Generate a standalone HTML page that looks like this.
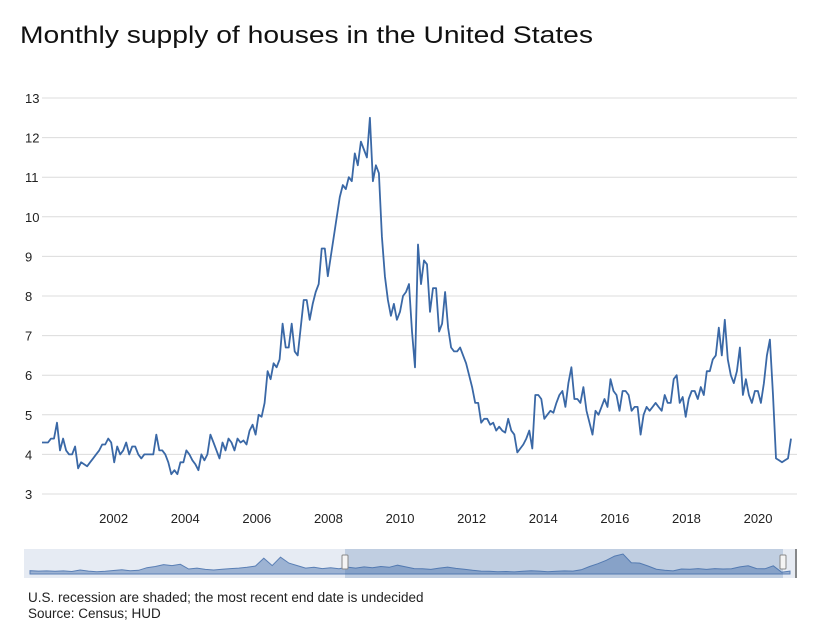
<!DOCTYPE html>
<html><head><meta charset="utf-8">
<style>
body{margin:0;background:#fff;width:820px;height:634px;overflow:hidden;font-family:"Liberation Sans",sans-serif;}
svg{display:block}
</style></head>
<body>
<svg id="chart" width="820" height="634">
<text x="20" y="43" font-size="24" fill="#111" textLength="573" lengthAdjust="spacingAndGlyphs">Monthly supply of houses in the United States</text>
<g id="grid"></g><g id="yticks"></g><g id="xticks"></g><g id="series"></g><g id="nav"></g>
<text x="28" y="602" font-size="13.5" fill="#222">U.S. recession are shaded; the most recent end date is undecided</text>
<text x="28" y="618" font-size="13.5" fill="#222">Source: Census; HUD</text>
</svg>
<script>
const yTicks=[3,4,5,6,7,8,9,10,11,12,13];
const xTickYears=[2002,2004,2006,2008,2010,2012,2014,2016,2018,2020];
const startYear=2000.0;
const endYear=2020.92;
const supply=[4.3,4.3,4.3,4.4,4.4,4.8,4.1,4.4,4.1,4.0,4.0,4.2,
3.65,3.8,3.75,3.7,3.8,3.9,4.0,4.1,4.25,4.25,4.4,4.3,
3.8,4.2,4.0,4.1,4.3,4.0,4.2,4.2,4.0,3.9,4.0,4.0,
4.0,4.0,4.5,4.1,4.1,4.0,3.8,3.5,3.6,3.5,3.8,3.8,
4.1,4.0,3.85,3.75,3.6,4.0,3.85,4.0,4.5,4.3,4.1,3.9,
4.3,4.1,4.4,4.3,4.1,4.4,4.3,4.35,4.25,4.6,4.75,4.5,
5.0,4.95,5.3,6.1,5.9,6.3,6.2,6.4,7.3,6.7,6.7,7.3,
6.6,6.5,7.2,7.9,7.9,7.4,7.8,8.1,8.3,9.2,9.2,8.5,
9.0,9.5,10.0,10.5,10.8,10.7,11.0,10.9,11.6,11.3,11.9,11.7,
11.5,12.5,10.9,11.3,11.1,9.5,8.5,7.9,7.5,7.8,7.4,7.6,
8.0,8.1,8.3,7.1,6.2,9.3,8.3,8.9,8.8,7.6,8.2,8.2,
7.1,7.3,8.1,7.2,6.7,6.6,6.6,6.7,6.5,6.3,6.0,5.7,
5.3,5.3,4.8,4.9,4.9,4.75,4.8,4.6,4.7,4.6,4.55,4.9,
4.6,4.5,4.05,4.15,4.25,4.4,4.6,4.15,5.5,5.5,5.4,4.9,
5.0,5.1,5.05,5.3,5.5,5.6,5.2,5.8,6.2,5.4,5.4,5.3,
5.7,5.1,4.8,4.5,5.1,5.0,5.2,5.4,5.2,5.9,5.6,5.5,
5.1,5.6,5.6,5.5,5.1,5.2,5.2,4.5,5.0,5.2,5.1,5.2,
5.3,5.2,5.1,5.5,5.3,5.3,5.9,6.0,5.3,5.45,4.95,5.4,
5.6,5.6,5.4,5.7,5.5,6.1,6.1,6.4,6.5,7.2,6.5,7.4,
6.4,6.0,5.8,6.1,6.7,5.5,5.9,5.5,5.3,5.6,5.6,5.3,
5.8,6.5,6.9,5.5,3.9,3.85,3.8,3.85,3.9,4.4];
const navValues=[4.6,4.4,4.5,4.3,4.5,4.2,4.9,4.4,4.1,4.3,4.7,5.0,4.6,4.8,6.0,6.6,7.5,7.0,7.6,5.4,5.8,5.2,4.9,5.3,5.6,5.8,6.2,6.8,10.5,7.0,11.0,8.2,7.0,5.8,6.2,5.6,6.0,5.5,6.3,5.8,6.4,6.0,6.6,6.2,7.2,6.4,5.6,5.5,5.2,5.8,6.3,5.7,5.3,4.8,4.4,4.3,4.1,4.2,4.0,4.3,4.6,4.4,4.1,4.3,4.5,4.4,5.0,6.6,7.9,9.5,11.5,12.5,8.4,8.2,6.8,5.3,4.8,4.5,5.4,5.3,5.6,5.2,5.6,5.4,5.5,6.4,6.9,5.6,5.5,6.9,3.9,4.4];

const NS="http://www.w3.org/2000/svg";
const L=42,R=797,T=98,B=494;
const yMin=3,yMax=13;
function ys(v){return B-(v-yMin)/(yMax-yMin)*(B-T);}
function xs(yr){return L+(yr-startYear)/(endYear-startYear)*(791-L);}
function mk(tag,attrs,parent){const e=document.createElementNS(NS,tag);for(const k in attrs)e.setAttribute(k,attrs[k]);parent.appendChild(e);return e;}

const grid=document.getElementById('grid'),yt=document.getElementById('yticks'),xt=document.getElementById('xticks');
yTicks.forEach(v=>{
  const ln=mk('line',{x1:L,x2:R,y1:ys(v),y2:ys(v),stroke:'#dcdcdc','stroke-width':1},grid);
  
  
  const t=mk('text',{x:25,y:ys(v)+5,'font-size':13,fill:'#222'},yt);
  t.textContent=v;
  
  
});
xTickYears.forEach(yr=>{
  const t=mk('text',{x:xs(yr),y:523,'font-size':13,fill:'#222','text-anchor':'middle'},xt);
  t.textContent=yr;
  
  
});
const step=(endYear-startYear)/(supply.length-1);
const pts=supply.map((v,i)=>xs(startYear+i*step).toFixed(1)+','+ys(v).toFixed(1)).join(' ');
const line=mk('polyline',{points:pts,fill:'none',stroke:'#3a68a6','stroke-width':1.8,'stroke-linejoin':'round'},document.getElementById('series'));



// navigator
const nav=document.getElementById('nav');
const NL=24,NR=797,NT=549,NB=578;
const bg=mk('rect',{x:NL,y:NT,width:NR-NL,height:NB-NT,fill:'#e6ebf3'},nav);


function nx(i){return 30+i/(navValues.length-1)*(790-30);}
function ny(v){return 573-(v-3.5)/(12.5-3.5)*(573-554);}
let d='M'+nx(0)+','+574;
navValues.forEach((v,i)=>{d+=' L'+nx(i).toFixed(1)+','+ny(v).toFixed(1);});
d+=' L'+nx(navValues.length-1)+',574 Z';
const area=mk('path',{d:d,fill:'#9db3d3',stroke:'#5a7fb5','stroke-width':1},nav);


const sel=mk('rect',{x:345,y:NT,width:438,height:NB-NT,fill:'#3a68a6','fill-opacity':0.22},nav);


[[345,'navigator-handle-left'],[783,'navigator-handle-right']].forEach(h=>{
  const r=mk('rect',{x:h[0]-3,y:555,width:6,height:14,fill:'#f4f4f4',stroke:'#888','stroke-width':1,rx:1},nav);
  
  
});
mk('line',{x1:796,x2:796,y1:NT,y2:NB,stroke:'#666','stroke-width':1.5},nav);
</script>
</body></html>
